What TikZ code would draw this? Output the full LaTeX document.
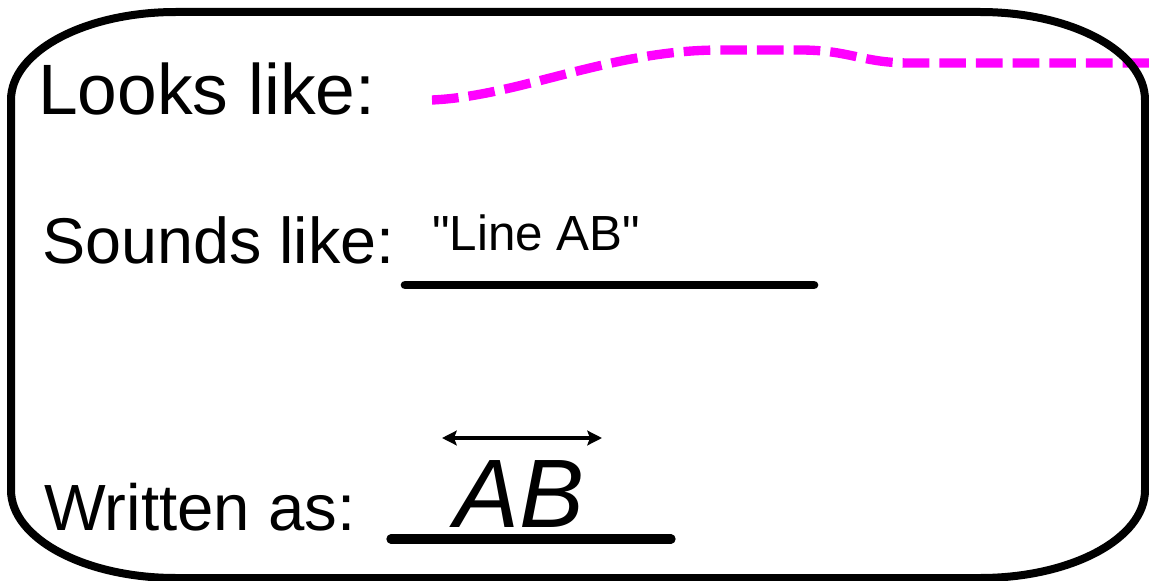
\documentclass[tikz,border=0pt]{standalone}
\usepackage{fontspec}
\setmainfont{Liberation Sans}
\newfontfamily\plainquotes{Liberation Sans}
\usepackage{tikz}
\usetikzlibrary{arrows.meta,positioning}
\definecolor{wiggle}{RGB}{255,0,255}
\tikzset{
  label/.style={
    anchor=base west,
    inner sep=0pt,
    font=\fontsize{48.5}{56}\selectfont
  },
  frame/.style={draw=black, line width=6pt, line join=round},
  blank/.style={line width=6.5pt, line cap=round},
  squiggle/.style={draw=wiggle, line width=7pt, dash pattern=on 20pt off 7.5pt},
  overarrow/.style={{Stealth[length=11pt,width=11pt,inset=2pt]}-{Stealth[length=11pt,width=11pt,inset=2pt]}, line width=3pt}
}

\begin{document}
\begin{tikzpicture}[x=0.75pt, y=-0.75pt]
  \useasboundingbox (0,0) rectangle (1149,581);

  \node[label, font=\fontsize{53.5}{60}\selectfont] (looks) at (38,115) {Looks like:};
  \node[label] (sounds) at (42,263) {Sounds like:};
  \node[label, font=\fontsize{49}{56}\selectfont] (written) at (44,530) {Written as:};
  \node[label, font=\fontsize{37}{42}\selectfont\plainquotes] (spoken) at (432,250) {"Line AB"};
  \node[label, font=\fontsize{73}{82}\selectfont\itshape] (symbol) at (454,527) {AB};

  % blanks to fill in
  \coordinate (soundsA) at (405,285);
  \coordinate (soundsB) at (814,285);
  \coordinate (writtenA) at (391,539);
  \coordinate (writtenB) at (671,539);
  \draw[blank] (soundsA) -- (soundsB);
  \draw[blank, line width=7pt] (writtenA) -- (writtenB);

  % line symbol over AB
  \coordinate (barL) at (442,438);
  \coordinate (barR) at (602,438);
  \draw[overarrow] (barL) -- (barR);

  % what it looks like
  \coordinate (wiggleA) at (432,100);
  \coordinate (wiggleB) at (1149,63);
  \draw[squiggle] (wiggleA) .. controls (520,96) and (610,50) .. (720,50)
    -- (800,50) .. controls (850,50) and (862,63) .. (910,63) -- (wiggleB);

  % outer box
  \draw[frame] (176,12) -- (980,12)
    arc[start angle=-90, end angle=0, x radius=165, y radius=88]
    -- (1145,490)
    arc[start angle=0, end angle=90, x radius=165, y radius=88]
    -- (176,578)
    arc[start angle=90, end angle=180, x radius=165, y radius=88]
    -- (11,100)
    arc[start angle=180, end angle=270, x radius=165, y radius=88]
    -- cycle;
\end{tikzpicture}
\end{document}
